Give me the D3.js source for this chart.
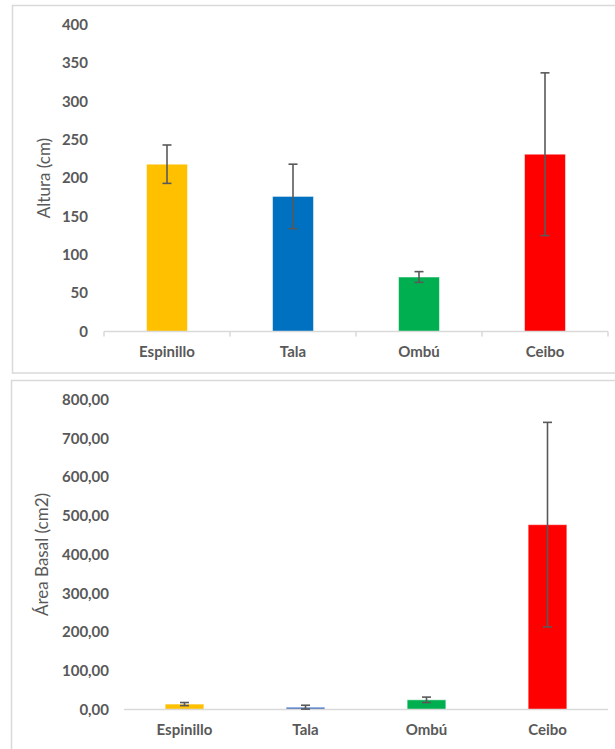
<!DOCTYPE html>
<html>
<head>
<meta charset="utf-8">
<script src="https://cdn.jsdelivr.net/npm/d3@7"></script>
<style>
  html, body { margin: 0; padding: 0; background: #fff; }
  svg { display: block; }
  text { font-family: Lato, "Open Sans", sans-serif; fill: #595959; }
</style>
</head>
<body>
<svg id="chart" width="615" height="749"></svg>
<script>
const categories = ["Espinillo", "Tala", "Ombú", "Ceibo"];
const colorsTop = ["#FFC000", "#0070C0", "#00B050", "#FF0000"];
const colorsBottom = ["#FFC000", "#4472C4", "#00B050", "#FF0000"];

const alturaMean = [218, 176, 71, 231];
const alturaErr = [25, 42, 7, 106];
const alturaTicks = [0, 50, 100, 150, 200, 250, 300, 350, 400];

const areaMean = [14, 6, 25, 477];
const areaErr = [4, 5, 7, 264];
const areaTicks = [0, 100, 200, 300, 400, 500, 600, 700, 800];

const svg = d3.select("#chart");
const gridColor = "#D9D9D9";
const fmtComma = v => d3.format(".2f")(v).replace(".", ",");

function drawPanel(cfg) {
  // panel border
  svg.append("rect")
    .attr("x", cfg.box[0]).attr("y", cfg.box[1])
    .attr("width", cfg.box[2]).attr("height", cfg.box[3])
    .attr("fill", "#fff").attr("stroke", gridColor).attr("stroke-width", 1.5);

  const x = d3.scaleBand().domain(categories)
    .range([cfg.x0, cfg.x1]).paddingInner(cfg.pad).paddingOuter(cfg.pad / 2);
  const y = d3.scaleLinear().domain([0, cfg.yMax]).range([cfg.y0, cfg.y1]);

  // y axis labels
  const yAxis = d3.axisLeft(y).tickValues(cfg.ticks).tickSize(0).tickPadding(0)
    .tickFormat(cfg.fmt);
  const gy = svg.append("g").attr("transform", `translate(${cfg.labelX},0)`).call(yAxis);
  gy.select(".domain").remove();
  gy.selectAll("text")
    .style("font-family", "Lato, sans-serif").style("font-weight", "700")
    .style("font-size", "15px").attr("fill", "#595959");

  // bars
  svg.append("g").selectAll("rect").data(categories).join("rect")
    .attr("x", d => x(d)).attr("width", x.bandwidth())
    .attr("y", (d, i) => y(cfg.mean[i]))
    .attr("height", (d, i) => y(0) - y(cfg.mean[i]))
    .attr("fill", (d, i) => cfg.colors[i])
    .attr("stroke", "rgba(255,255,255,0.5)").attr("stroke-width", 1);

  // x axis line
  const base = y(0);
  svg.append("line").attr("x1", cfg.x0).attr("x2", cfg.x1)
    .attr("y1", base).attr("y2", base)
    .attr("stroke", gridColor).attr("stroke-width", 1.5);
  if (cfg.xTicks) {
    const step = x.step();
    const bounds = d3.range(categories.length + 1).map(i => cfg.x0 + i * step);
    svg.append("g").selectAll("line").data(bounds).join("line")
      .attr("x1", d => d).attr("x2", d => d)
      .attr("y1", base).attr("y2", base + 5)
      .attr("stroke", gridColor).attr("stroke-width", 1.5);
  }

  // error bars
  const eb = svg.append("g").attr("stroke", "#595959").attr("stroke-width", 1.6);
  categories.forEach((c, i) => {
    const cx = x(c) + x.bandwidth() / 2;
    const top = y(cfg.mean[i] + cfg.err[i]);
    const bot = y(Math.max(0, cfg.mean[i] - cfg.err[i]));
    eb.append("line").attr("x1", cx).attr("x2", cx).attr("y1", top).attr("y2", bot);
    [top, bot].forEach(v => eb.append("line")
      .attr("x1", cx - 4.5).attr("x2", cx + 4.5).attr("y1", v).attr("y2", v));
  });

  // x labels
  svg.append("g").selectAll("text").data(categories).join("text")
    .attr("x", d => x(d) + x.bandwidth() / 2).attr("y", cfg.xLabelY)
    .attr("text-anchor", "middle").attr("dominant-baseline", "middle")
    .style("font-weight", "700").style("font-size", "15px")
    .text(d => d);

  // y title
  svg.append("text")
    .attr("transform", `translate(${cfg.titleX},${(cfg.y0 + cfg.y1) / 2}) rotate(-90)`)
    .attr("text-anchor", "middle").attr("dominant-baseline", "middle")
    .style("font-size", "17px").style("font-weight", "400")
    .text(cfg.title);
}

drawPanel({
  box: [12.5, 5.5, 640, 367.5],
  x0: 104, x1: 608, y0: 331.5, y1: 24.5, yMax: 400, pad: 0.675,
  ticks: alturaTicks, fmt: d3.format("d"), labelX: 88,
  mean: alturaMean, err: alturaErr, colors: colorsTop,
  xTicks: true, xLabelY: 353, titleX: 46, title: "Altura (cm)"
});

drawPanel({
  box: [11.5, 380.5, 640, 400],
  x0: 124, x1: 608, y0: 709.5, y1: 399.5, yMax: 800, pad: 0.68,
  ticks: areaTicks, fmt: fmtComma, labelX: 109,
  mean: areaMean, err: areaErr, colors: colorsBottom,
  xTicks: false, xLabelY: 731.5, titleX: 44, title: "Área Basal (cm2)"
});
</script>
</body>
</html>
